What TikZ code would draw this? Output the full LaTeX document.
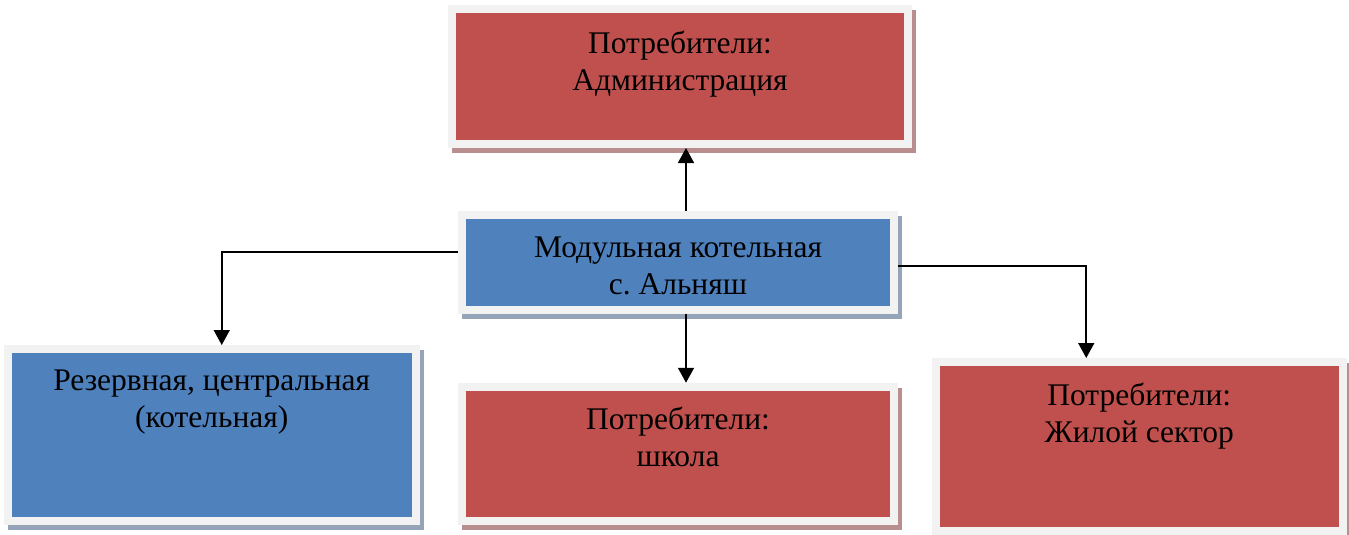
\documentclass[tikz,border=0pt]{standalone}
\usepackage{fontspec}
\setmainfont{Liberation Serif}
\frenchspacing
\usetikzlibrary{calc,arrows.meta,positioning}

\definecolor{boxred}{HTML}{C0504D}
\definecolor{boxblue}{HTML}{4F81BD}
\definecolor{framegray}{HTML}{F2F2F2}
\definecolor{redshade}{RGB}{185,142,142}
\definecolor{blueshade}{RGB}{150,164,186}

\begin{document}
\begin{tikzpicture}[x=1pt, y=-1pt,
  box/.style={rectangle, draw=framegray, line width=8pt, inner sep=0pt, align=flush center,
    font=\fontsize{31.5}{37}\selectfont},
  redbox/.style={box, fill=boxred,
    preaction={fill=redshade, draw=redshade, line width=8pt, transform canvas={shift={(4pt,-5pt)}}}},
  bluebox/.style={box, fill=boxblue,
    preaction={fill=blueshade, draw=blueshade, line width=8pt, transform canvas={shift={(4pt,-5pt)}}}},
  arrow/.style={->, line width=1.6pt, >={Triangle[length=15pt, width=16pt]}}
]
  \useasboundingbox (0,0) rectangle (1349,535);
  \node[redbox, text width=456pt, text height=44pt, text depth=91pt] (admin) at (680,76.5) {Потребители:\\Администрация};
  \node[bluebox, text width=432pt, text height=42.5pt, text depth=52.5pt] (modul) at (678,262) {Модульная котельная\\с. Альняш};
  \node[bluebox, text width=407.5pt, text height=41pt, text depth=130.5pt] (rezerv) at (211.75,434.75) {Резервная, центральная\\(котельная)};
  \node[redbox, text width=432pt, text height=42.6pt, text depth=91.4pt] (shkola) at (678,453.75) {Потребители:\\школа};
  \node[redbox, text width=406.5pt, text height=43pt, text depth=126pt] (zhil) at (1139.25,446.5) {Потребители:\\Жилой сектор};
  \draw[arrow] ([xshift=8pt]modul.north) -- ([xshift=8pt]modul.north |- admin.south);
  \draw[arrow] ([yshift=10pt]modul.west) -| ([xshift=10pt]rezerv.north);
  \draw[arrow] ([xshift=8pt]modul.south) -- ([xshift=8pt]modul.south |- shkola.north);
  \draw[arrow] ([yshift=-4pt]modul.east) -| ([xshift=-53pt]zhil.north);
\end{tikzpicture}
\end{document}
